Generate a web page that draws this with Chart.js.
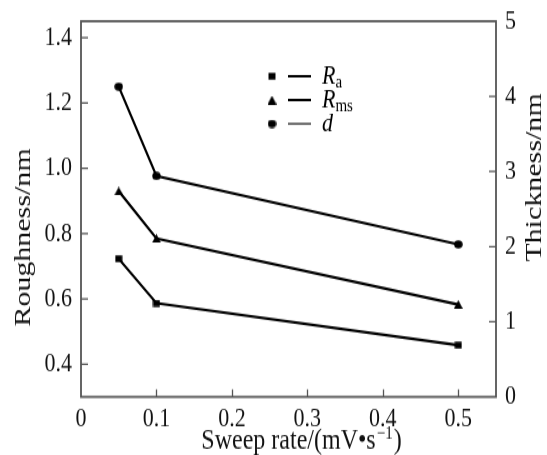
<!DOCTYPE html>
<html>
<head>
<meta charset="utf-8">
<script src="https://cdn.jsdelivr.net/npm/chart.js@4.4.0/dist/chart.umd.min.js"></script>
<style>
  html, body { margin: 0; padding: 0; background: #fff; }
</style>
</head>
<body>
<!-- the original figure is stretched vertically, so the canvas is too -->
<canvas id="chart" width="547" height="364" style="display:block;width:547px;height:455px"></canvas>
<script>
// values
const sweepRates = [0.05, 0.1, 0.5];
const raValues = [0.723, 0.587, 0.458];
const rmsValues = [0.93, 0.785, 0.583];
const thicknessValues = [4.13, 2.94, 2.03];

const rateTicks = [0, 0.1, 0.2, 0.3, 0.4, 0.5];
const roughnessTicks = [0.4, 0.6, 0.8, 1.0, 1.2, 1.4];
const thicknessTicks = [0, 1, 2, 3, 4, 5];

const seriesNames = ["R", "R", "d"];
const seriesSubs = ["a", "ms", ""];
const pointStyles = ["rect", "triangle", "circle"];

const xTitle = "Sweep rate/(mV\u2022s";
const xTitleSup = "\u22121";
const leftTitle = "Roughness/nm";
const rightTitle = "Thickness/nm";

const FONT = "'Liberation Serif', 'Times New Roman', serif";
const frameColor = "#555";
const STRETCH = 455 / 364;

// small pre-squashed marker images, so they come out round after the stretch
function makeMarker(style) {
  const c = document.createElement("canvas");
  const w = style === "rect" ? 8 : 9;
  const h = Math.round(w / STRETCH);
  c.width = w; c.height = h;
  const g = c.getContext("2d");
  g.fillStyle = "#000";
  g.beginPath();
  if (style === "rect") {
    g.rect(0.5, 0.3, w - 1, h - 0.6);
  } else if (style === "triangle") {
    g.moveTo(w / 2, 0);
    g.lineTo(w, h);
    g.lineTo(0, h);
    g.closePath();
  } else {
    g.ellipse(w / 2, h / 2, w / 2 - 0.3, h / 2 - 0.3, 0, 0, Math.PI * 2);
  }
  g.fill();
  return c;
}
const markers = pointStyles.map(makeMarker);

const toPoints = (ys) => sweepRates.map((x, i) => ({ x: x, y: ys[i] }));

// frame, inward ticks, axis titles and the legend
const decorations = {
  id: "decorations",
  afterDraw(chart) {
    const ctx = chart.ctx;
    const a = chart.chartArea;
    const sx = chart.scales.x, sy = chart.scales.y, sy1 = chart.scales.y1;
    ctx.save();
    ctx.strokeStyle = frameColor;
    ctx.lineWidth = 1.8;
    ctx.strokeRect(a.left, a.top, a.right - a.left, a.bottom - a.top);

    ctx.lineWidth = 1.3;
    ctx.beginPath();
    roughnessTicks.forEach((v) => {
      const y = sy.getPixelForValue(v);
      ctx.moveTo(a.left, y); ctx.lineTo(a.left + 7, y);
    });
    rateTicks.slice(1).forEach((v) => {
      const x = Math.round(sx.getPixelForValue(v)) + 0.5;
      ctx.moveTo(x, a.bottom); ctx.lineTo(x, a.bottom - 6);
    });
    thicknessTicks.slice(1, -1).forEach((v) => {
      const y = sy1.getPixelForValue(v);
      ctx.moveTo(a.right, y); ctx.lineTo(a.right - 7, y);
    });
    ctx.stroke();

    // axis titles
    ctx.fillStyle = "#111";
    ctx.font = "24px " + FONT;
    ctx.textAlign = "center";
    ctx.textBaseline = "middle";
    ctx.save();
    ctx.translate(24, 190);
    ctx.rotate(-Math.PI / 2);
    ctx.fillText(leftTitle, 0, 0);
    ctx.restore();
    ctx.save();
    ctx.translate(535, 142);
    ctx.rotate(-Math.PI / 2);
    ctx.fillText(rightTitle, 0, 0);
    ctx.restore();

    ctx.textAlign = "left";
    ctx.textBaseline = "alphabetic";
    const mainW = ctx.measureText(xTitle).width;
    ctx.font = "15px " + FONT;
    const supW = ctx.measureText(xTitleSup).width;
    ctx.font = "24px " + FONT;
    const closeW = ctx.measureText(")").width;
    const tx = (a.left + a.right) / 2 + 12 - (mainW + supW + closeW) / 2;
    const ty = 359;
    ctx.fillText(xTitle, tx, ty);
    ctx.font = "15px " + FONT;
    ctx.fillText(xTitleSup, tx + mainW + 1, ty - 8);
    ctx.font = "24px " + FONT;
    ctx.fillText(")", tx + mainW + supW + 2, ty);

    // legend
    const lx = 272, ly = 61, gap = 19;
    chart.data.datasets.forEach((ds, i) => {
      const y = ly + i * gap;
      const m = markers[i];
      ctx.drawImage(m, lx - m.width / 2, y - m.height / 2);
      ctx.strokeStyle = "#000";
      ctx.lineWidth = i === 2 ? 1.1 : 2;
      ctx.beginPath();
      ctx.moveTo(lx + 16, y); ctx.lineTo(lx + 39, y);
      ctx.stroke();
      ctx.fillStyle = "#000";
      ctx.font = "italic 22px " + FONT;
      ctx.fillText(seriesNames[i], lx + 50, y + 6);
      const nw = ctx.measureText(seriesNames[i]).width;
      ctx.font = "15px " + FONT;
      ctx.fillText(seriesSubs[i], lx + 50 + nw, y + 9);
    });
    ctx.restore();
  }
};

const makeSet = (label, ys, axis, i) => ({
  label: label,
  data: toPoints(ys),
  yAxisID: axis,
  borderColor: "#000",
  backgroundColor: "#000",
  borderWidth: 2.2,
  pointStyle: markers[i],
  pointRadius: 5,
  tension: 0,
});

// pin each axis box to the size of the original plot frame
const fitY = (w) => (s) => { s.width = w; s.paddingTop = 0; s.paddingBottom = 0; };

new Chart(document.getElementById("chart"), {
  type: "line",
  data: {
    datasets: [
      makeSet("Ra", raValues, "y", 0),
      makeSet("Rms", rmsValues, "y", 1),
      makeSet("d", thicknessValues, "y1", 2),
    ],
  },
  options: {
    responsive: false,
    devicePixelRatio: 1,
    animation: false,
    layout: { autoPadding: false, padding: { top: 17, left: 0, right: 0, bottom: 0 } },
    plugins: { legend: { display: false }, tooltip: { enabled: false } },
    scales: {
      x: {
        type: "linear",
        min: 0,
        max: 0.55,
        grid: { display: false, drawTicks: false },
        border: { display: false },
        afterBuildTicks: (s) => { s.ticks = rateTicks.map((v) => ({ value: v })); },
        afterFit: (s) => { s.height = 46.5; s.paddingLeft = 0; s.paddingRight = 0; },
        ticks: {
          padding: 5,
          color: "#111",
          font: { family: FONT, size: 22 },
          callback: (v) => String(v),
        },
      },
      y: {
        position: "left",
        min: 0.3,
        max: 1.45,
        grid: { display: false, drawTicks: false },
        border: { display: false },
        afterBuildTicks: (s) => { s.ticks = roughnessTicks.map((v) => ({ value: v })); },
        afterFit: fitY(81),
        ticks: {
          padding: 9,
          color: "#111",
          font: { family: FONT, size: 22 },
          callback: (v) => v.toFixed(1),
        },
      },
      y1: {
        position: "right",
        min: 0,
        max: 5,
        grid: { display: false, drawTicks: false },
        border: { display: false },
        afterBuildTicks: (s) => { s.ticks = thicknessTicks.map((v) => ({ value: v })); },
        afterFit: fitY(51),
        ticks: {
          padding: 9,
          color: "#111",
          font: { family: FONT, size: 22 },
          callback: (v) => String(v),
        },
      },
    },
  },
  plugins: [decorations],
});
</script>
</body>
</html>
